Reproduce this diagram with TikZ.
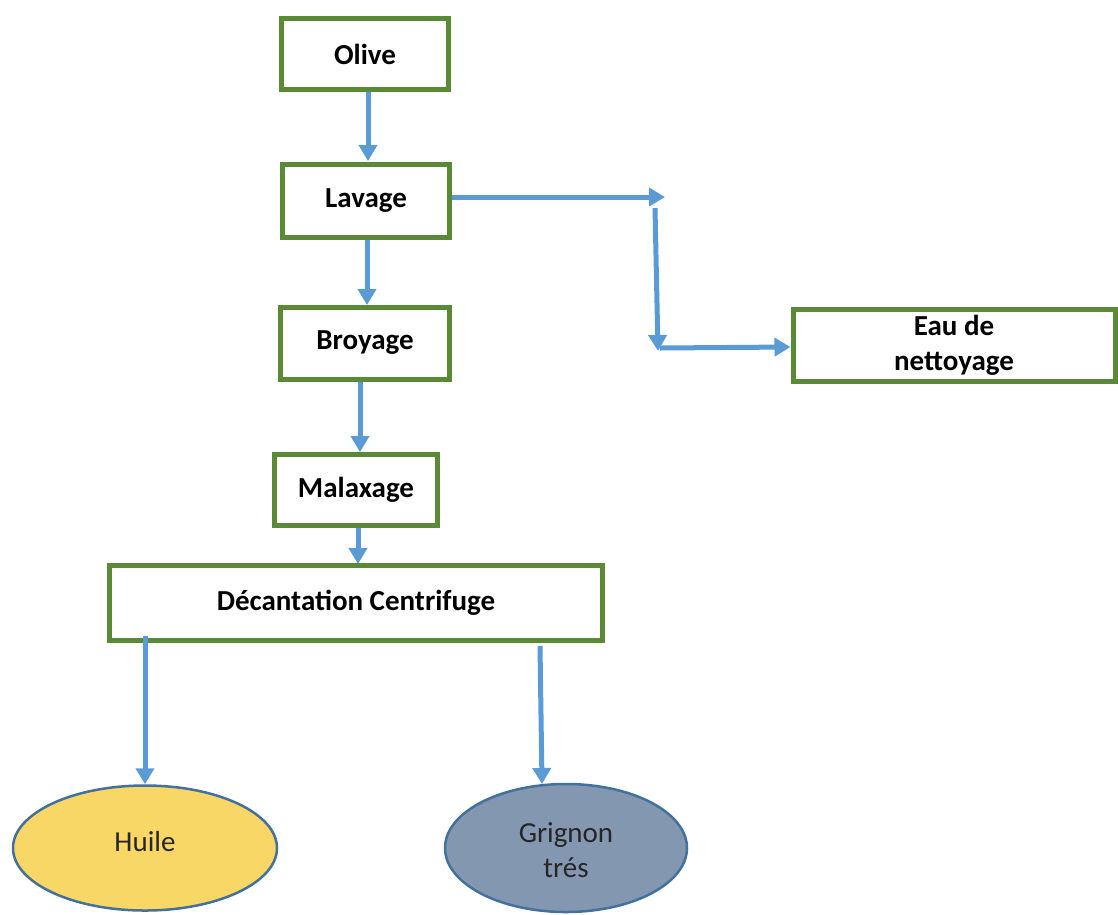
\documentclass[tikz,border=0pt]{standalone}
\usepackage{fontspec}
\setmainfont{Carlito}
\usetikzlibrary{arrows.meta,shapes.geometric}
\definecolor{boxgreen}{HTML}{5A8A35}
\definecolor{arrowblue}{HTML}{5B9BD5}
\definecolor{oilyellow}{HTML}{F9D766}
\definecolor{grignonblue}{HTML}{8497B0}
\definecolor{ellborder}{HTML}{41719C}
\tikzset{
  stepbox/.style={draw=boxgreen, line width=5pt, fill=white, inner sep=0pt,
    font=\fontsize{29}{35}\selectfont\bfseries, align=center},
  flow/.style={draw=arrowblue, line width=5pt, -{Triangle[width=18pt,length=16pt]}},
  product/.style={ellipse, draw=ellborder, line width=2.5pt, inner sep=0pt,
    font=\fontsize{29}{35}\selectfont, align=center, text=black!85}
}
\begin{document}
\begin{tikzpicture}[x=1pt,y=-1pt]
\useasboundingbox (0,0) rectangle (1118,914);
% boxes
\node[stepbox, minimum width=167pt, minimum height=71pt] (olive) at (365,54) {Olive};
\node[stepbox, minimum width=167pt, minimum height=73pt] (lavage) at (366,201) {Lavage};
\node[stepbox, minimum width=169pt, minimum height=72pt] (broyage) at (365,343) {Broyage};
\node[stepbox, minimum width=163pt, minimum height=71pt] (malaxage) at (356,490) {Malaxage};
\node[stepbox, minimum width=493pt, minimum height=75pt] (decant) at (356,603) {Décantation Centrifuge};
\node[stepbox, minimum width=322pt, minimum height=72pt] (eau) at (954,345) {Eau de\\nettoyage};
% products
\node[product, fill=oilyellow, minimum width=264pt, minimum height=125pt] (huile) at (145,848) {\raisebox{14pt}{Huile}};
\node[product, fill=grignonblue, minimum width=242pt, minimum height=128pt, text depth=0pt] (grignon) at (566,848) {\raisebox{-4pt}{Grignon}\\\raisebox{-4pt}{trés}};
% connectors
\coordinate (c1) at (665,197);
\coordinate (c2) at (655,208);
\coordinate (c3) at (658,351);
\coordinate (c4) at (660,348);
\draw[flow] (olive.south -| 368,0) -- (368,161);
\draw[flow] (lavage.south -| 367,0) -- (367,305);
\draw[flow] (broyage.south -| 360,0) -- (360,452);
\draw[flow] (malaxage.south -| 358,0) -- (358,564);
\draw[flow] (lavage.east |- 0,197) -- (c1);
\draw[flow] (c2) -- (c3);
\draw[flow] (c4) -- (eau.west |- 0,347);
\draw[flow] (145,636) -- (huile.north -| 145,0);
\draw[flow] (decant.south -| 540,0) ++(0,3) -- (542,784);
\end{tikzpicture}
\end{document}
